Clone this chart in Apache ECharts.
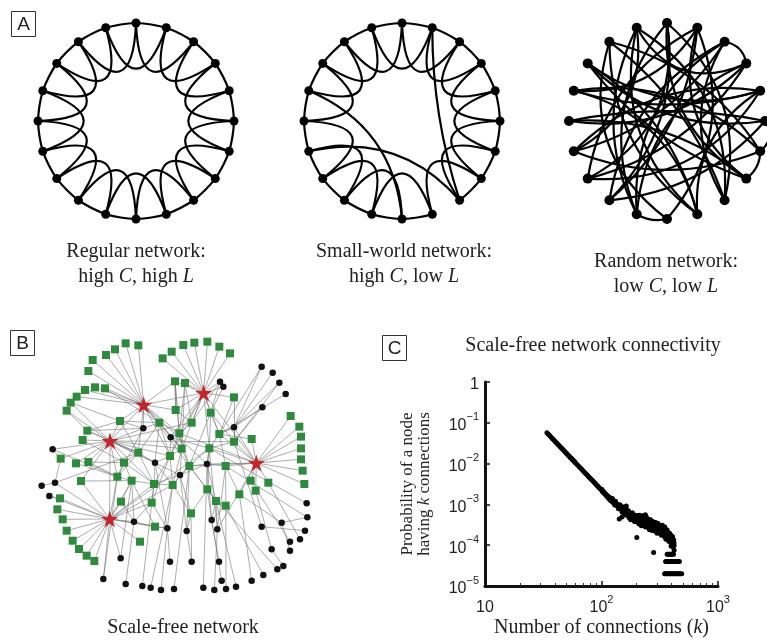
<!DOCTYPE html>
<html><head><meta charset="utf-8">
<script src="https://cdn.jsdelivr.net/npm/echarts@6/dist/echarts.min.js"></script>
<style>html,body{margin:0;padding:0;background:#fff}#c{width:767px;height:642px}</style>
</head><body><div id="c"></div>
<script>
// ---------- Panel A: ring networks (20 nodes, angle in degrees clockwise from top) ----------
const ringAngles = [0,18,36,54,72,90,108,126,144,162,180,198,216,234,252,270,288,306,324,342];
const latticeSteps = [1, 2];            // each node linked to 1st and 2nd neighbours
const swRemoved = ['8-9', '8-10', '14-16'];
const swAdded = [[16,10,0.3],[14,8,0.3],[1,8,-0.08]];
const randomLinks = [
  [0,11,-0.3],[0,13,0.35],[0,7,-0.3],[1,12,0.2],[1,13,-0.25],[1,16,0.3],
  [2,3,0.35],[2,14,0.2],[2,11,-0.3],[3,19,0.45],[3,15,0.25],[4,16,0.15],[4,13,0.3],
  [5,6,0.45],[5,15,-0.1],[5,17,0.25],[6,7,0.25],[6,14,0.2],[6,18,-0.2],[7,17,0.15],[7,1,0.35],
  [8,18,-0.15],[8,2,0.3],[8,0,-0.3],[9,17,-0.2],[9,19,0.3],[9,4,0.3],[10,11,0.2],[10,1,-0.3],
  [10,18,0.35],[11,19,0.25],[11,3,0.3],[12,5,-0.2],[12,2,0.25],[13,3,-0.2],[14,4,0.25],
  [15,7,0.2],[16,6,0.25],[17,4,-0.25],[18,9,-0.25],[19,8,0.3],[12,0,-0.25],[16,9,0.3],[14,19,-0.35]
];
const captionsA = [
  ['Regular network:', 'high {i|C}, high {i|L}'],
  ['Small-world network:', 'high {i|C}, low {i|L}'],
  ['Random network:', 'low {i|C}, low {i|L}']
];

// ---------- Panel B: scale-free network (layout units) ----------
const bHubs = [[431,314],[611,279],[330,423],[769,489],[329,657]];
const bSquares = [
  [377,130],[415,136],[345,148],[318,165],[278,180],[265,213],[315,265],[285,262],[255,270],[230,290],
  [212,308],[200,332],[488,175],[515,155],[550,135],[583,128],[622,125],[658,140],[690,160],[525,244],
  [555,249],[702,292],[262,392],[248,420],[182,476],[228,490],[265,486],[360,363],[372,488],[243,543],
  [872,348],[898,380],[903,410],[903,445],[903,478],[908,512],[913,552],[805,548],[767,572],[752,542],
  [755,417],[180,595],[172,628],[188,658],[200,692],[218,722],[237,747],[260,767],[283,783],[363,605],
  [420,725],[478,368],[527,330],[632,338],[575,368],[538,400],[658,402],[702,425],[545,446],[628,445],
  [510,468],[415,458],[352,530],[395,542],[462,552],[518,555],[568,498],[677,498],[622,568],[718,583],
  [648,603],[677,617],[573,640],[455,608],[465,680]
];
const bDots = [
  [660,245],[670,260],[785,200],[818,218],[838,248],[857,282],[787,322],[702,382],[430,385],[512,412],
  [465,488],[540,525],[621,492],[158,448],[165,548],[125,557],[148,588],[402,665],[502,685],[560,693],
  [635,660],[652,688],[362,775],[510,785],[575,785],[657,785],[310,837],[377,852],[427,858],[452,863],
  [483,870],[522,867],[610,863],[643,870],[678,867],[708,860],[665,842],[755,842],[790,825],[832,808],
  [850,798],[815,748],[870,752],[870,725],[900,718],[915,692],[845,668],[785,680],[922,652],[920,610]
];
const bAdjacency = [
  'h0:g0,g1,g2,g3,g4,g5,g6,g7,g8,g9,g27,g51,g52,g19,g61,g58,g66,b8,b12,h1,h2,g55,g60',
  'h1:g12,g13,g14,g15,g16,g17,g18,g19,g20,g21,b0,b1,g53,g54,g56,g52,g59,g60,b9,g55,g58',
  'h2:g10,g11,g22,g23,g24,g25,g26,g27,g28,g29,g61,g62,g58,g54,g57,b8,b11,b13,h4,g60,g64,b10',
  'h3:g30,g31,g32,g33,g34,g35,g36,g37,g38,g39,g40,g57,g67,g69,g56,g55,b7,b12,h1,g59,g66,b21',
  'h4:g41,g42,g43,g44,g45,g46,g47,g48,g49,g50,g29,g62,g63,g65,g59,g73,b14,b16,b17,b22,b26,g64,g74,b18',
  'g51:g55,g61,b9,b10,b8,g6,g58,g60', 'g52:g54,g19', 'g53:g56,g66,b0,g59,g57', 'g54:g55,g20', 'g55:g58,b9,g19,g60,g66',
  'g56:g59,b7,g40,g67', 'g57:g59,g21,b6,b47,b7', 'g58:g60,g66,b11,g20,g65', 'g59:g66,b12,b21,b49,g68', 'g60:g64,b10,b9,g65,g73',
  'g61:g62,b10,g27,g28,g64,g22', 'g62:g63,g26,b13,b26,g25,b8,g28', 'g63:g64,b17,g74,g29,b22,g49,g28', 'g64:g65,g73,g28,b28,b10',
  'g65:g66,g72,b11,b18,b29,b10', 'g66:b12,b19,b31,g70,g68,b11', 'g67:g69,b12,b21,b34,b48', 'g68:g70,b20,b39,g72',
  'g70:g71,b35,b20,b21,b12', 'g71:b38,b20', 'g72:b19,b24,b11', 'g74:b18,b17', 'g69:b37,b46', 'g38:b41', 'g39:b43',
  'g37:b44', 'b2:b7,g56', 'b3:b7', 'b4:b7,g57', 'b5:g56', 'b6:b7', 'b13:g24', 'b14:g24,b15,g61',
  'b16:g41', 'b17:g49,b27,g73', 'b18:b10,b23,b30,g73', 'b19:b11,b24', 'b20:b12,b25,b36', 'b21:b33',
  'b32:b12', 'b40:b41', 'b42:b46', 'b45:b47', 'b48:b46', 'g22:b8,g27', 'g23:g28', 'g10:g27', 'g11:g22',
  'g27:g51,b8', 'g19:g52,g55', 'g20:g55', 'b9:g58,g59', 'b11:g64,b12', 'b12:g59', 'g26:g28', 'g21:g56',
  'b1:g53', 'b0:g54', 'b7:g56'
];

// ---------- Panel C: degree distribution ----------
const lineK = [34,35,36,37,38,39,40,41,42,43,44,45,46,47,48,49,50,51,52,53,54,55,56,57,58,59,60,
  62,64,66,68,70,72,74,76,78,80,82,84,86,88,90,92,94,96,98,100,102,104,106,108,110,112,114,116,118];
const lineP = [0.0570,0.0523,0.0480,0.0442,0.0408,0.0378,0.0350,0.0325,0.0302,0.0282,0.0263,0.0246,
  0.0230,0.0216,0.0203,0.0190,0.0179,0.0169,0.0159,0.0151,0.0142,0.0135,0.0128,0.0121,0.0115,0.0109,
  0.0104,0.00940,0.00855,0.00779,0.00713,0.00653,0.00600,0.00553,0.00511,0.00472,0.00438,0.00406,
  0.00378,0.00352,0.00329,0.00307,0.00288,0.00270,0.00253,0.00238,0.00224,0.00211,0.00199,0.00188,
  0.00178,0.00168,0.00160,0.00151,0.00144,0.00136];
// [k, P x 1e-4]
const cloudPoints = [
  [101,23.2],[103,19.8],[105,20.1],[107,18.0],[109,17.8],[111,15.9],[113,16.2],[115,13.9],[117,15.0],[119,12.6],
  [121,13.8],[123,11.8],[125,12.7],[127,10.8],
  [120,13.9],[122,12.1],[124,13.9],[126,11.5],[128,12.0],[130,9.7],[132,12.0],[134,10.0],[136,9.1],[138,10.0],
  [140,7.8],[142,8.9],[144,9.8],[146,7.7],[148,7.8],[150,6.5],[152,8.7],[154,7.0],[156,7.5],[158,5.6],[160,7.3],
  [162,8.3],[164,5.5],[166,6.1],[168,5.6],[170,7.0],[172,4.8],[174,5.6],[176,6.1],[178,4.2],[180,5.6],[182,4.6],
  [184,6.2],[186,4.7],[188,4.3],[190,5.4],[192,3.8],[194,4.9],[196,5.4],[198,4.1],[200,4.6],[202,3.7],[204,5.3],
  [206,4.0],[208,4.7],[210,3.3],[212,5.4],[214,4.1],[216,3.6],[218,4.7],[220,3.0],[222,4.2],[224,5.3],[226,3.5],
  [228,3.9],[230,3.1],[232,4.7],[234,3.6],[236,4.1],[238,2.8],[240,4.2],[242,5.0],[244,3.1],[246,3.5],[248,3.2],
  [250,4.4],[252,2.7],[254,3.6],[256,4.0],[258,2.4],[260,3.7],[262,2.9],[264,4.2],[266,3.0],[268,2.7],[270,3.7],
  [272,2.3],[274,3.3],[276,3.8],[278,2.7],[280,3.1],[282,2.5],[284,3.5],[286,2.7],[288,3.1],[290,2.2],[292,3.6],
  [294,2.7],[296,2.4],[298,3.1],[300,1.95],[303,2.8],[306,3.4],[309,2.3],[312,2.5],[315,2.0],[318,3.0],[321,2.3],
  [324,2.55],[327,1.75],[330,2.6],[333,3.1],[336,1.85],[339,2.1],[342,1.95],[345,2.6],[348,1.6],[351,2.1],
  [354,2.3],[357,1.4],[360,2.1],[363,1.6],[366,2.35],[369,1.65],[372,1.45],[375,2.0],[378,1.25],[381,1.7],
  [384,1.95],[387,1.4],[390,1.55],[393,1.25],[396,1.75],[399,1.3],[402,1.5],[405,1.0],[408,1.6],[411,1.2],
  [414,1.05],[417,1.35],[420,1.0],
  [151,7.9],[155,6.4],[159,7.6],[163,5.9],[167,6.6],[171,5.2],[175,6.0],[179,4.7],[183,5.5],[187,5.0],[191,4.2],
  [195,4.8],[199,3.9],[203,4.9],[207,3.8],[211,4.5],[215,3.4],[219,4.4],[223,3.6],[227,4.5],[231,3.4],[235,4.3],
  [239,3.3],[243,3.9],[247,2.9],[251,3.8],[255,3.0],[259,3.5],[263,2.6],[267,3.4],[271,2.8],[275,3.2],[279,2.5],
  [283,3.0],[287,2.4],[291,2.9],[295,2.3],[299,2.8],[305,2.2],[311,2.7],[317,2.1],[323,2.8],[329,2.0],[335,2.4],
  [341,1.8],[347,2.2],[353,1.75],[359,1.9],[365,1.5],[371,1.9],[377,1.5],[383,1.6],[389,1.2],[395,1.4],[401,1.15],
  [407,1.3],[413,0.95],[419,1.15],
  [201,1.55],[280,0.66],[142,4.4],[150,4.9],[163,9.2],[238,5.6],[350,2.8],[410,0.9],[420,0.75],[395,0.95]
];
const rowK6 = [366,373,380,387,394,401,408,415];
const rowK4 = [355,363,371,379,387,395,403,411,419,428,437,446,456,466];
const rowK2 = [348,355,362,370,378,386,394,402,410,419,428,437,446,456,466,477,488];
const xTitle = 'Number of connections ({i|k})';
const yTitle = 'Probability of a node\nhaving {i|k} connections';

// ---------- build ----------
const SERIF = 'Liberation Serif', SANS = 'Liberation Sans';
const ringNodes = ringAngles.map(a => ({ value: [1, a] }));
const n = ringAngles.length;
function latticeLinks(removed) {
  const out = [];
  ringAngles.forEach((a, i) => latticeSteps.forEach(s => {
    const j = (i + s) % n;
    if (removed && removed.indexOf(i + '-' + j) >= 0) return;
    out.push({ source: i, target: j, lineStyle: { curveness: s === 1 ? 0.06 : -1.35 } });
  }));
  return out;
}
const regLinks = latticeLinks(null);
const swLinks = latticeLinks(swRemoved).concat(swAdded.map(e => ({ source: e[0], target: e[1], lineStyle: { curveness: e[2] } })));
const rndLinks = randomLinks.map(e => ({ source: e[0], target: e[1], lineStyle: { curveness: e[2] } }));

function ringSeries(idx, links, size) {
  return {
    type: 'graph', coordinateSystem: 'polar', polarIndex: idx, layout: 'none', silent: true,
    symbol: 'circle', symbolSize: size, itemStyle: { color: '#000' },
    lineStyle: { color: '#000', width: 2.2, opacity: 1 },
    data: ringNodes, links: links, z: 3
  };
}

const STAR = 'path://M50,0 L61.8,35.4 L99,35.4 L69,57.3 L80.4,92.7 L50,70.8 L19.6,92.7 L31,57.3 L1,35.4 L38.2,35.4 Z';
const bNodes = [].concat(
  bHubs.map(p => ({ value: p, category: 0 })),
  bSquares.map(p => ({ value: p, category: 1 })),
  bDots.map(p => ({ value: p, category: 2 }))
);
function bIdx(id) {
  const t = id[0], k = +id.slice(1);
  return t === 'h' ? k : t === 'g' ? bHubs.length + k : bHubs.length + bSquares.length + k;
}
const bLinks = [];
bAdjacency.forEach(s => {
  const parts = s.split(':');
  parts[1].split(',').forEach(b => bLinks.push({ source: bIdx(parts[0]), target: bIdx(b) }));
});

const scatterData = lineK.map((k, i) => [k, lineP[i]])
  .concat(cloudPoints.map(p => [p[0], p[1] * 1e-4]))
  .concat(rowK6.map(k => [k, 0.6e-4]), rowK4.map(k => [k, 0.4e-4]), rowK2.map(k => [k, 0.2e-4]));

function powLabel(v) {
  const e = Math.round(Math.log10(v));
  if (e === 0) return '{b|1}';
  if (e === 1) return '{b|10}';
  return '{b|10}{s|' + (e < 0 ? '\u2212' + (-e) : e) + '}';
}
const labelRich = {
  b: { fontFamily: SANS, fontSize: 16, color: '#222', lineHeight: 22, verticalAlign: 'bottom' },
  s: { fontFamily: SANS, fontSize: 11, color: '#222', lineHeight: 22, verticalAlign: 'top' }
};

function txt(x, y, text, size, rich) {
  return {
    type: 'text', x: x, y: y, silent: true,
    style: {
      text: text, fontFamily: SERIF, fontSize: size, fill: '#222',
      align: 'center', verticalAlign: 'middle', textAlign: 'center', textVerticalAlign: 'middle',
      rich: rich ? { i: { fontFamily: SERIF, fontSize: size, fontStyle: 'italic', fill: '#222' } } : undefined
    }
  };
}
function box(x, y, letter) {
  return [
    { type: 'rect', shape: { x: x + 0.5, y: y + 0.5, width: 24, height: 25 }, style: { fill: 'none', stroke: '#333', lineWidth: 1 }, silent: true },
    { type: 'text', x: x + 12.5, y: y + 13.5, silent: true,
      style: { text: letter, fontFamily: SANS, fontSize: 19, fill: '#222', align: 'center', verticalAlign: 'middle', textAlign: 'center', textVerticalAlign: 'middle' } }
  ];
}
const capX = [136, 404, 666], capY1 = [252, 252, 262];
const graphics = [].concat(
  box(11, 11, 'A'), box(10, 330, 'B'), box(382, 335, 'C'),
  captionsA.map((c, i) => txt(capX[i], capY1[i], c[0], 20, false)),
  captionsA.map((c, i) => txt(capX[i], capY1[i] + 25, c[1], 20, true)),
  [txt(183, 628, 'Scale-free network', 20, false), txt(593, 346, 'Scale-free network connectivity', 20, false)]
);

const chart = echarts.init(document.getElementById('c'), null, { renderer: 'canvas' });
chart.setOption({
  animation: false,
  backgroundColor: '#fff',
  polar: [
    { center: [136, 121], radius: 98 },
    { center: [402, 121], radius: 98 },
    { center: [667, 121], radius: 98 }
  ],
  angleAxis: [0, 1, 2].map(i => ({ polarIndex: i, min: 0, max: 360, startAngle: 90, clockwise: true, show: false })),
  radiusAxis: [0, 1, 2].map(i => ({ polarIndex: i, min: 0, max: 1, show: false })),
  grid: [
    { left: 485, top: 382, width: 233, height: 204 },
    { left: 0, top: 300, width: 330, height: 342 }
  ],
  xAxis: [
    { type: 'log', logBase: 10, min: 10, max: 1000, gridIndex: 0,
      axisLine: { lineStyle: { color: '#111', width: 3 } },
      axisTick: { inside: true, length: 5, lineStyle: { color: '#111', width: 1.5 } },
      minorTick: { show: true, splitNumber: 9, length: 3, lineStyle: { color: '#333', width: 1 } },
      splitLine: { show: false },
      axisLabel: { formatter: powLabel, rich: labelRich, margin: 8, color: '#222' },
      name: xTitle, nameLocation: 'middle', nameGap: 32,
      nameTextStyle: { fontFamily: SERIF, fontSize: 20, color: '#222', rich: { i: { fontFamily: SERIF, fontSize: 20, fontStyle: 'italic', color: '#222' } } }
    },
    { type: 'value', gridIndex: 1, min: 0, max: 990, show: false }
  ],
  yAxis: [
    { type: 'log', logBase: 10, min: 1e-5, max: 1, gridIndex: 0,
      axisLine: { lineStyle: { color: '#111', width: 3 } },
      axisTick: { inside: true, length: 5, lineStyle: { color: '#111', width: 1.5 } },
      splitLine: { show: false },
      axisLabel: { formatter: powLabel, rich: labelRich, margin: 6, color: '#222' },
      name: yTitle, nameLocation: 'middle', nameRotate: 90, nameGap: 52,
      nameTextStyle: { fontFamily: SERIF, fontSize: 17, lineHeight: 17, color: '#222', rich: { i: { fontFamily: SERIF, fontSize: 17, lineHeight: 17, fontStyle: 'italic', color: '#222' } } }
    },
    { type: 'value', gridIndex: 1, min: 0, max: 1026, inverse: true, show: false }
  ],
  graphic: { elements: graphics },
  series: [
    ringSeries(0, regLinks, 9),
    ringSeries(1, swLinks, 9),
    ringSeries(2, rndLinks, 10),
    {
      type: 'graph', coordinateSystem: 'cartesian2d', xAxisIndex: 1, yAxisIndex: 1, layout: 'none', silent: true,
      categories: [
        { name: 'hub', symbol: STAR, symbolSize: 17, itemStyle: { color: '#c1272d' } },
        { name: 'square', symbol: 'rect', symbolSize: 8, itemStyle: { color: '#2e8b3e' } },
        { name: 'dot', symbol: 'circle', symbolSize: 6.5, itemStyle: { color: '#111' } }
      ],
      data: bNodes, links: bLinks,
      lineStyle: { color: '#777', width: 1, opacity: 0.6 },
      z: 3
    },
    {
      type: 'scatter', xAxisIndex: 0, yAxisIndex: 0, silent: true,
      symbol: 'circle', symbolSize: 5, itemStyle: { color: '#000', opacity: 1 },
      data: scatterData, z: 2
    }
  ]
});
</script></body></html>
